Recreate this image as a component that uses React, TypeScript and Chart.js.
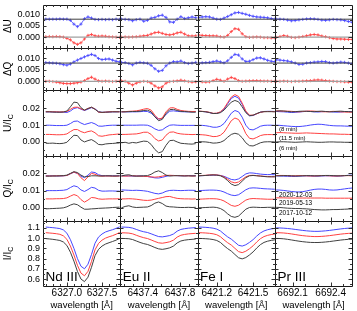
import React, { useEffect, useRef } from 'react';
import { Chart, registerables } from 'chart.js';

Chart.register(...registerables);

const FONT = "'Liberation Sans', Arial, Helvetica, sans-serif";
const BLACK = '#404040';
const RED = '#ff4040';
const BLUE = '#4646ff';

// ---------- wavelengths (Å) ----------
const wlNd = [6326.70, 6326.75, 6326.80, 6326.85, 6326.90, 6326.95, 6327.00, 6327.05, 6327.10, 6327.15, 6327.20, 6327.25, 6327.30, 6327.35, 6327.40, 6327.45, 6327.50, 6327.55, 6327.60, 6327.65, 6327.70, 6327.75];
const wlEu = [6437.17, 6437.21, 6437.25, 6437.29, 6437.33, 6437.37, 6437.41, 6437.45, 6437.49, 6437.53, 6437.57, 6437.61, 6437.65, 6437.69, 6437.73, 6437.77, 6437.81, 6437.85, 6437.89, 6437.93, 6437.97];
const wlFe = [6421.05, 6421.08, 6421.11, 6421.14, 6421.17, 6421.20, 6421.23, 6421.26, 6421.29, 6421.32, 6421.35, 6421.38, 6421.41, 6421.44, 6421.47, 6421.50, 6421.53, 6421.56, 6421.59, 6421.62, 6421.65, 6421.68];
const wlPr = [6691.97, 6692.00, 6692.03, 6692.06, 6692.09, 6692.12, 6692.15, 6692.18, 6692.21, 6692.24, 6692.27, 6692.30, 6692.33, 6692.36, 6692.39, 6692.42, 6692.45, 6692.48, 6692.51, 6692.54, 6692.57];

// ---------- Nd III ----------
const dUBlueNd = [0.0080, 0.0080, 0.0080, 0.0080, 0.0081, 0.0080, 0.0080, 0.0075, 0.0058, 0.0047, 0.0058, 0.0082, 0.0090, 0.0085, 0.0079, 0.0078, 0.0079, 0.0078, 0.0079, 0.0078, 0.0080, 0.0079];
const dURedNd = [0.0002, 0.0003, 0.0002, 0.0003, 0.0002, 0.0000, -0.0005, -0.0012, -0.0025, -0.0032, -0.0025, -0.0008, 0.0008, 0.0012, 0.0006, 0.0004, 0.0005, 0.0004, 0.0002, 0.0001, 0.0000, -0.0001];
const dQBlueNd = [0.0082, 0.0081, 0.0080, 0.0079, 0.0077, 0.0073, 0.0071, 0.0076, 0.0085, 0.0093, 0.0100, 0.0107, 0.0113, 0.0118, 0.0113, 0.0100, 0.0095, 0.0097, 0.0098, 0.0093, 0.0088, 0.0085];
const dQRedNd = [0.0000, 0.0000, -0.0001, -0.0003, -0.0006, -0.0009, -0.0010, -0.0010, -0.0008, -0.0006, -0.0003, 0.0003, 0.0012, 0.0018, 0.0010, 0.0002, 0.0000, 0.0001, 0.0000, -0.0001, 0.0000, 0.0000];
const uBlackTopNd = [0.0180, 0.0180, 0.0179, 0.0178, 0.0178, 0.0179, 0.0185, 0.0210, 0.0238, 0.0235, 0.0205, 0.0190, 0.0200, 0.0208, 0.0195, 0.0180, 0.0177, 0.0178, 0.0179, 0.0180, 0.0180, 0.0180];
const uRedTopNd = [0.0181, 0.0181, 0.0180, 0.0180, 0.0179, 0.0180, 0.0182, 0.0195, 0.0207, 0.0208, 0.0198, 0.0190, 0.0200, 0.0207, 0.0197, 0.0178, 0.0176, 0.0178, 0.0180, 0.0181, 0.0181, 0.0180];
const uBlueTopNd = [0.0180, 0.0180, 0.0179, 0.0179, 0.0178, 0.0178, 0.0176, 0.0185, 0.0200, 0.0205, 0.0196, 0.0188, 0.0196, 0.0205, 0.0198, 0.0180, 0.0177, 0.0178, 0.0179, 0.0180, 0.0180, 0.0181];
const uBlueNd = [0.0100, 0.0100, 0.0099, 0.0098, 0.0098, 0.0098, 0.0100, 0.0110, 0.0123, 0.0125, 0.0113, 0.0104, 0.0110, 0.0116, 0.0108, 0.0095, 0.0094, 0.0097, 0.0099, 0.0100, 0.0100, 0.0101];
const uRedNd = [0.0045, 0.0045, 0.0044, 0.0043, 0.0043, 0.0044, 0.0048, 0.0062, 0.0074, 0.0074, 0.0062, 0.0055, 0.0062, 0.0066, 0.0055, 0.0037, 0.0034, 0.0038, 0.0042, 0.0044, 0.0046, 0.0048];
const uBlackNd = [-0.0008, -0.0008, -0.0007, -0.0009, -0.0010, -0.0008, -0.0002, 0.0020, 0.0040, 0.0038, 0.0012, 0.0000, 0.0008, 0.0014, 0.0002, -0.0015, -0.0017, -0.0012, -0.0010, -0.0009, -0.0007, -0.0006];
const qBlackTopNd = [0.0184, 0.0184, 0.0185, 0.0185, 0.0186, 0.0187, 0.0190, 0.0200, 0.0210, 0.0205, 0.0190, 0.0180, 0.0182, 0.0186, 0.0186, 0.0185, 0.0185, 0.0186, 0.0186, 0.0185, 0.0185, 0.0186];
const qRedTopNd = [0.0185, 0.0185, 0.0185, 0.0186, 0.0186, 0.0186, 0.0188, 0.0198, 0.0208, 0.0200, 0.0175, 0.0158, 0.0180, 0.0200, 0.0195, 0.0186, 0.0184, 0.0185, 0.0185, 0.0184, 0.0184, 0.0185];
const qBlueTopNd = [0.0186, 0.0186, 0.0186, 0.0185, 0.0185, 0.0186, 0.0188, 0.0198, 0.0207, 0.0200, 0.0184, 0.0175, 0.0190, 0.0208, 0.0205, 0.0192, 0.0187, 0.0186, 0.0186, 0.0186, 0.0186, 0.0186];
const qBlueNd = [0.0100, 0.0100, 0.0100, 0.0100, 0.0101, 0.0102, 0.0106, 0.0118, 0.0128, 0.0122, 0.0104, 0.0095, 0.0106, 0.0119, 0.0115, 0.0102, 0.0097, 0.0097, 0.0098, 0.0098, 0.0097, 0.0097];
const qRedNd = [0.0052, 0.0052, 0.0052, 0.0053, 0.0053, 0.0054, 0.0058, 0.0068, 0.0077, 0.0070, 0.0048, 0.0033, 0.0045, 0.0060, 0.0058, 0.0052, 0.0050, 0.0051, 0.0052, 0.0052, 0.0052, 0.0053];
const qBlackNd = [-0.0006, -0.0005, -0.0004, -0.0003, -0.0002, 0.0000, 0.0006, 0.0016, 0.0023, 0.0018, 0.0004, -0.0008, -0.0008, -0.0006, -0.0005, -0.0003, -0.0002, -0.0001, 0.0000, 0.0002, 0.0003, 0.0004];
const iBlueNd = [1.108, 1.105, 1.102, 1.098, 1.093, 1.080, 1.048, 0.985, 0.900, 0.800, 0.725, 0.700, 0.745, 0.840, 0.950, 1.010, 1.040, 1.060, 1.072, 1.082, 1.095, 1.110];
const iRedNd = [1.053, 1.050, 1.047, 1.043, 1.037, 1.022, 0.988, 0.922, 0.835, 0.735, 0.658, 0.632, 0.675, 0.772, 0.885, 0.948, 0.980, 1.000, 1.013, 1.024, 1.038, 1.055];
const iBlackNd = [0.995, 0.992, 0.988, 0.983, 0.977, 0.962, 0.928, 0.862, 0.775, 0.675, 0.600, 0.575, 0.618, 0.715, 0.828, 0.890, 0.922, 0.942, 0.955, 0.967, 0.980, 0.997];

// ---------- Eu II ----------
const dUBlueEu = [0.0080, 0.0079, 0.0078, 0.0073, 0.0078, 0.0080, 0.0071, 0.0075, 0.0085, 0.0088, 0.0095, 0.0098, 0.0088, 0.0068, 0.0066, 0.0080, 0.0091, 0.0083, 0.0086, 0.0090, 0.0087];
const dURedEu = [0.0000, 0.0001, 0.0000, 0.0001, 0.0002, 0.0004, 0.0006, 0.0008, 0.0014, 0.0020, 0.0022, 0.0017, 0.0012, 0.0010, 0.0013, 0.0019, 0.0022, 0.0014, 0.0006, 0.0005, 0.0006];
const dQBlueEu = [0.0083, 0.0082, 0.0078, 0.0072, 0.0080, 0.0083, 0.0081, 0.0079, 0.0070, 0.0055, 0.0044, 0.0048, 0.0068, 0.0080, 0.0086, 0.0085, 0.0089, 0.0082, 0.0078, 0.0080, 0.0083];
const dQRedEu = [0.0002, 0.0000, -0.0008, -0.0016, -0.0008, -0.0002, 0.0000, -0.0001, -0.0008, -0.0020, -0.0029, -0.0024, -0.0008, -0.0001, 0.0000, 0.0002, 0.0005, 0.0002, -0.0001, -0.0003, -0.0002];
const uBlackTopEu = [0.0180, 0.0180, 0.0181, 0.0182, 0.0182, 0.0184, 0.0188, 0.0190, 0.0180, 0.0150, 0.0127, 0.0135, 0.0170, 0.0193, 0.0195, 0.0188, 0.0183, 0.0182, 0.0180, 0.0178, 0.0178];
const uRedTopEu = [0.0180, 0.0181, 0.0183, 0.0184, 0.0186, 0.0190, 0.0196, 0.0200, 0.0190, 0.0160, 0.0137, 0.0143, 0.0180, 0.0203, 0.0205, 0.0195, 0.0188, 0.0185, 0.0183, 0.0182, 0.0182];
const uBlueTopEu = [0.0180, 0.0180, 0.0180, 0.0180, 0.0180, 0.0181, 0.0183, 0.0182, 0.0172, 0.0152, 0.0137, 0.0140, 0.0165, 0.0184, 0.0186, 0.0183, 0.0181, 0.0180, 0.0180, 0.0180, 0.0181];
const uBlueEu = [0.0100, 0.0100, 0.0100, 0.0100, 0.0100, 0.0101, 0.0101, 0.0100, 0.0092, 0.0078, 0.0069, 0.0072, 0.0088, 0.0100, 0.0102, 0.0100, 0.0099, 0.0099, 0.0099, 0.0099, 0.0099];
const uRedEu = [0.0045, 0.0045, 0.0046, 0.0047, 0.0048, 0.0052, 0.0058, 0.0058, 0.0045, 0.0020, 0.0006, 0.0012, 0.0040, 0.0058, 0.0060, 0.0052, 0.0048, 0.0046, 0.0045, 0.0044, 0.0045];
const uBlackEu = [-0.0005, -0.0002, -0.0008, -0.0003, -0.0006, 0.0000, 0.0005, 0.0003, -0.0015, -0.0045, -0.0065, -0.0058, -0.0020, 0.0008, 0.0010, 0.0000, -0.0008, -0.0010, -0.0012, -0.0013, -0.0010];
const qBlackTopEu = [0.0185, 0.0190, 0.0192, 0.0186, 0.0184, 0.0185, 0.0186, 0.0187, 0.0195, 0.0208, 0.0215, 0.0205, 0.0190, 0.0185, 0.0186, 0.0187, 0.0186, 0.0185, 0.0186, 0.0185, 0.0186];
const qRedTopEu = [0.0185, 0.0184, 0.0185, 0.0186, 0.0185, 0.0184, 0.0183, 0.0182, 0.0180, 0.0178, 0.0180, 0.0184, 0.0188, 0.0189, 0.0188, 0.0187, 0.0187, 0.0186, 0.0186, 0.0185, 0.0185];
const qBlueTopEu = [0.0186, 0.0186, 0.0185, 0.0184, 0.0185, 0.0185, 0.0184, 0.0182, 0.0178, 0.0174, 0.0173, 0.0177, 0.0183, 0.0187, 0.0188, 0.0187, 0.0186, 0.0186, 0.0187, 0.0187, 0.0186];
const qBlueEu = [0.0104, 0.0103, 0.0102, 0.0101, 0.0102, 0.0101, 0.0099, 0.0096, 0.0090, 0.0084, 0.0081, 0.0086, 0.0096, 0.0101, 0.0102, 0.0101, 0.0100, 0.0101, 0.0102, 0.0102, 0.0101];
const qRedEu = [0.0052, 0.0052, 0.0053, 0.0052, 0.0050, 0.0047, 0.0044, 0.0043, 0.0045, 0.0050, 0.0055, 0.0060, 0.0065, 0.0066, 0.0060, 0.0055, 0.0053, 0.0052, 0.0052, 0.0051, 0.0052];
const qBlackEu = [0.0000, 0.0008, 0.0012, 0.0005, 0.0002, 0.0003, 0.0004, 0.0005, 0.0013, 0.0027, 0.0034, 0.0025, 0.0010, 0.0006, 0.0005, 0.0003, 0.0002, 0.0002, 0.0003, 0.0002, 0.0003];
const iBlueEu = [1.108, 1.107, 1.105, 1.098, 1.085, 1.072, 1.062, 1.055, 1.042, 1.028, 1.015, 1.012, 1.018, 1.025, 1.040, 1.068, 1.085, 1.092, 1.097, 1.100, 1.103];
const iRedEu = [1.052, 1.051, 1.049, 1.042, 1.028, 1.015, 1.004, 0.996, 0.982, 0.967, 0.954, 0.950, 0.956, 0.964, 0.980, 1.010, 1.028, 1.036, 1.041, 1.044, 1.047];
const iBlackEu = [0.997, 0.996, 0.994, 0.986, 0.972, 0.958, 0.946, 0.938, 0.924, 0.908, 0.895, 0.890, 0.896, 0.905, 0.922, 0.953, 0.972, 0.980, 0.985, 0.988, 0.991];

// ---------- Fe I ----------
const dUBlueFe = [0.0088, 0.0090, 0.0091, 0.0090, 0.0085, 0.0080, 0.0079, 0.0085, 0.0092, 0.0100, 0.0108, 0.0110, 0.0106, 0.0102, 0.0097, 0.0093, 0.0090, 0.0089, 0.0088, 0.0086, 0.0083, 0.0080];
const dURedFe = [0.0010, 0.0008, 0.0007, 0.0006, 0.0006, 0.0005, 0.0002, 0.0000, 0.0008, 0.0025, 0.0038, 0.0035, 0.0015, 0.0002, -0.0001, 0.0000, 0.0001, 0.0000, -0.0002, -0.0002, -0.0003, -0.0003];
const dQBlueFe = [0.0080, 0.0081, 0.0082, 0.0083, 0.0086, 0.0089, 0.0085, 0.0081, 0.0090, 0.0105, 0.0118, 0.0115, 0.0098, 0.0087, 0.0088, 0.0095, 0.0102, 0.0103, 0.0098, 0.0092, 0.0088, 0.0086];
const dQRedFe = [0.0000, -0.0002, -0.0003, -0.0002, 0.0003, 0.0009, 0.0005, 0.0000, 0.0010, 0.0017, 0.0012, 0.0003, 0.0000, 0.0001, 0.0002, 0.0003, 0.0003, 0.0002, 0.0001, 0.0001, 0.0000, 0.0000];
const uBlackTopFe = [0.0183, 0.0182, 0.0180, 0.0176, 0.0170, 0.0170, 0.0175, 0.0190, 0.0215, 0.0238, 0.0248, 0.0240, 0.0210, 0.0175, 0.0157, 0.0160, 0.0170, 0.0178, 0.0181, 0.0181, 0.0181, 0.0180];
const uRedTopFe = [0.0184, 0.0183, 0.0181, 0.0177, 0.0171, 0.0172, 0.0180, 0.0200, 0.0235, 0.0268, 0.0283, 0.0272, 0.0232, 0.0185, 0.0160, 0.0160, 0.0168, 0.0177, 0.0181, 0.0182, 0.0182, 0.0181];
const uBlueTopFe = [0.0183, 0.0182, 0.0180, 0.0175, 0.0170, 0.0171, 0.0178, 0.0196, 0.0228, 0.0260, 0.0273, 0.0262, 0.0225, 0.0180, 0.0156, 0.0158, 0.0168, 0.0178, 0.0182, 0.0183, 0.0183, 0.0182];
const uBlueFe = [0.0100, 0.0099, 0.0097, 0.0093, 0.0088, 0.0088, 0.0094, 0.0110, 0.0140, 0.0172, 0.0188, 0.0180, 0.0148, 0.0100, 0.0075, 0.0072, 0.0082, 0.0094, 0.0099, 0.0100, 0.0100, 0.0099];
const uRedFe = [0.0044, 0.0043, 0.0041, 0.0037, 0.0032, 0.0033, 0.0040, 0.0058, 0.0092, 0.0127, 0.0143, 0.0134, 0.0098, 0.0050, 0.0022, 0.0018, 0.0027, 0.0038, 0.0043, 0.0044, 0.0044, 0.0043];
const uBlackFe = [0.0002, 0.0001, 0.0000, -0.0003, -0.0007, -0.0006, -0.0002, 0.0008, 0.0028, 0.0045, 0.0052, 0.0046, 0.0025, -0.0005, -0.0022, -0.0024, -0.0015, -0.0005, 0.0000, 0.0001, 0.0001, 0.0000];
const qBlackTopFe = [0.0186, 0.0187, 0.0188, 0.0190, 0.0191, 0.0190, 0.0186, 0.0176, 0.0158, 0.0138, 0.0129, 0.0135, 0.0155, 0.0175, 0.0186, 0.0188, 0.0186, 0.0184, 0.0182, 0.0180, 0.0180, 0.0180];
const qRedTopFe = [0.0187, 0.0188, 0.0189, 0.0191, 0.0192, 0.0191, 0.0188, 0.0180, 0.0166, 0.0151, 0.0145, 0.0150, 0.0165, 0.0180, 0.0188, 0.0189, 0.0187, 0.0185, 0.0183, 0.0182, 0.0181, 0.0181];
const qBlueTopFe = [0.0186, 0.0187, 0.0188, 0.0189, 0.0190, 0.0190, 0.0188, 0.0183, 0.0174, 0.0165, 0.0162, 0.0168, 0.0182, 0.0197, 0.0203, 0.0202, 0.0199, 0.0196, 0.0194, 0.0193, 0.0193, 0.0192];
const qBlueFe = [0.0100, 0.0101, 0.0102, 0.0103, 0.0103, 0.0102, 0.0099, 0.0092, 0.0082, 0.0074, 0.0071, 0.0076, 0.0090, 0.0105, 0.0114, 0.0116, 0.0115, 0.0113, 0.0111, 0.0110, 0.0109, 0.0108];
const qRedFe = [0.0050, 0.0051, 0.0052, 0.0053, 0.0053, 0.0052, 0.0048, 0.0040, 0.0027, 0.0014, 0.0009, 0.0015, 0.0030, 0.0045, 0.0052, 0.0054, 0.0053, 0.0052, 0.0051, 0.0050, 0.0050, 0.0050];
const qBlackFe = [0.0000, 0.0001, 0.0002, 0.0003, 0.0004, 0.0002, -0.0004, -0.0016, -0.0035, -0.0050, -0.0055, -0.0048, -0.0028, -0.0008, 0.0002, 0.0004, 0.0003, 0.0002, 0.0002, 0.0003, 0.0003, 0.0003];
const iBlueFe = [1.108, 1.107, 1.105, 1.102, 1.097, 1.088, 1.070, 1.040, 1.012, 0.990, 0.960, 0.930, 0.922, 0.935, 0.958, 0.985, 1.020, 1.050, 1.070, 1.082, 1.090, 1.095];
const iRedFe = [1.053, 1.052, 1.050, 1.047, 1.042, 1.033, 1.014, 0.983, 0.955, 0.932, 0.900, 0.868, 0.858, 0.872, 0.896, 0.925, 0.962, 0.994, 1.015, 1.027, 1.035, 1.040];
const iBlackFe = [0.997, 0.996, 0.994, 0.991, 0.986, 0.977, 0.958, 0.926, 0.897, 0.873, 0.840, 0.808, 0.797, 0.810, 0.835, 0.865, 0.903, 0.936, 0.958, 0.970, 0.978, 0.983];

// ---------- Pr III ----------
const dUBluePr = [0.0080, 0.0080, 0.0079, 0.0076, 0.0073, 0.0074, 0.0077, 0.0079, 0.0081, 0.0082, 0.0081, 0.0079, 0.0076, 0.0075, 0.0077, 0.0079, 0.0078, 0.0077, 0.0074, 0.0070, 0.0066];
const dURedPr = [-0.0001, 0.0003, 0.0007, 0.0004, -0.0001, -0.0002, 0.0000, 0.0003, 0.0006, 0.0010, 0.0012, 0.0010, 0.0005, 0.0002, -0.0002, -0.0006, -0.0008, -0.0008, -0.0009, -0.0010, -0.0010];
const dQBluePr = [0.0094, 0.0093, 0.0091, 0.0089, 0.0085, 0.0080, 0.0074, 0.0075, 0.0080, 0.0082, 0.0084, 0.0085, 0.0087, 0.0086, 0.0082, 0.0080, 0.0082, 0.0084, 0.0083, 0.0080, 0.0077];
const dQRedPr = [0.0000, 0.0000, 0.0001, 0.0000, -0.0001, 0.0000, 0.0000, 0.0001, 0.0002, 0.0003, 0.0005, 0.0006, 0.0005, 0.0003, 0.0001, 0.0000, -0.0001, -0.0001, -0.0002, -0.0003, -0.0004];
const uBlackTopPr = [0.0184, 0.0186, 0.0185, 0.0182, 0.0180, 0.0181, 0.0183, 0.0184, 0.0183, 0.0182, 0.0181, 0.0183, 0.0184, 0.0182, 0.0180, 0.0181, 0.0183, 0.0184, 0.0182, 0.0181, 0.0180];
const uRedTopPr = [0.0186, 0.0185, 0.0184, 0.0184, 0.0183, 0.0181, 0.0180, 0.0182, 0.0184, 0.0185, 0.0184, 0.0182, 0.0181, 0.0180, 0.0181, 0.0183, 0.0182, 0.0180, 0.0179, 0.0178, 0.0178];
const uBlueTopPr = [0.0182, 0.0181, 0.0180, 0.0178, 0.0176, 0.0177, 0.0179, 0.0181, 0.0183, 0.0182, 0.0180, 0.0179, 0.0181, 0.0182, 0.0181, 0.0179, 0.0178, 0.0179, 0.0181, 0.0182, 0.0181];
const uBluePr = [0.0100, 0.0099, 0.0097, 0.0095, 0.0093, 0.0092, 0.0092, 0.0094, 0.0097, 0.0101, 0.0104, 0.0106, 0.0105, 0.0102, 0.0099, 0.0097, 0.0096, 0.0096, 0.0095, 0.0094, 0.0094];
const uRedPr = [0.0055, 0.0056, 0.0055, 0.0054, 0.0053, 0.0052, 0.0052, 0.0053, 0.0054, 0.0053, 0.0052, 0.0051, 0.0050, 0.0049, 0.0048, 0.0048, 0.0047, 0.0046, 0.0046, 0.0045, 0.0045];
const uBlackPr = [0.0000, 0.0001, 0.0001, 0.0000, -0.0001, -0.0002, -0.0001, 0.0000, 0.0001, 0.0000, -0.0001, -0.0002, -0.0002, -0.0001, 0.0000, 0.0000, -0.0001, -0.0001, -0.0002, -0.0002, -0.0002];
const qBlackTopPr = [0.0186, 0.0186, 0.0187, 0.0187, 0.0186, 0.0185, 0.0185, 0.0186, 0.0187, 0.0187, 0.0186, 0.0186, 0.0187, 0.0188, 0.0188, 0.0187, 0.0186, 0.0186, 0.0187, 0.0188, 0.0188];
const qRedTopPr = [0.0187, 0.0188, 0.0188, 0.0187, 0.0186, 0.0186, 0.0187, 0.0187, 0.0186, 0.0185, 0.0185, 0.0186, 0.0187, 0.0187, 0.0186, 0.0185, 0.0185, 0.0186, 0.0187, 0.0187, 0.0186];
const qBlueTopPr = [0.0186, 0.0185, 0.0184, 0.0183, 0.0182, 0.0182, 0.0184, 0.0185, 0.0186, 0.0185, 0.0184, 0.0184, 0.0185, 0.0186, 0.0186, 0.0185, 0.0184, 0.0185, 0.0187, 0.0189, 0.0190];
const qBluePr = [0.0104, 0.0103, 0.0101, 0.0098, 0.0095, 0.0093, 0.0092, 0.0094, 0.0098, 0.0103, 0.0107, 0.0109, 0.0109, 0.0107, 0.0104, 0.0103, 0.0104, 0.0107, 0.0110, 0.0113, 0.0115];
const qRedPr = [0.0058, 0.0058, 0.0058, 0.0057, 0.0057, 0.0057, 0.0057, 0.0057, 0.0057, 0.0057, 0.0057, 0.0057, 0.0057, 0.0056, 0.0056, 0.0056, 0.0056, 0.0056, 0.0056, 0.0056, 0.0056];
const qBlackPr = [0.0003, 0.0002, 0.0000, -0.0002, -0.0003, -0.0004, -0.0004, -0.0005, -0.0006, -0.0008, -0.0010, -0.0011, -0.0012, -0.0012, -0.0011, -0.0010, -0.0010, -0.0009, -0.0008, -0.0007, -0.0006];
const iBluePr = [1.100, 1.099, 1.097, 1.094, 1.090, 1.085, 1.080, 1.075, 1.071, 1.068, 1.066, 1.066, 1.068, 1.071, 1.075, 1.080, 1.085, 1.090, 1.094, 1.097, 1.100];
const iRedPr = [1.053, 1.052, 1.050, 1.046, 1.041, 1.035, 1.029, 1.024, 1.020, 1.017, 1.015, 1.015, 1.017, 1.020, 1.024, 1.029, 1.034, 1.039, 1.043, 1.046, 1.048];
const iBlackPr = [0.997, 0.996, 0.993, 0.988, 0.982, 0.976, 0.970, 0.965, 0.961, 0.958, 0.957, 0.957, 0.959, 0.962, 0.966, 0.971, 0.976, 0.981, 0.985, 0.988, 0.990];

// ---------- axes, ticks, labels ----------
const lineNames = ['Nd III', 'Eu II', 'Fe I', 'Pr III'];
const xRangeNd = [6326.66, 6327.76];
const xRangeEu = [6437.158, 6437.99];
const xRangeFe = [6421.042, 6421.68];
const xRangePr = [6691.96, 6692.57];
const xTicksNd = [6327.0, 6327.5];
const xTicksEu = [6437.4, 6437.8];
const xTicksFe = [6421.2, 6421.5];
const xTicksPr = [6692.1, 6692.4];
const xTitle = 'wavelength [Å]';

const yRangeDU = [-0.0046, 0.0144];
const yRangeDQ = [-0.0039, 0.0148];
const yRangeU = [-0.0083, 0.0309];
const yRangeQ = [-0.0076, 0.0302];
const yRangeI = [0.532, 1.168];
const yTicksDelta = [0.0, 0.005, 0.010];
const yTicksPol = [0.0, 0.01, 0.02];
const yTicksI = [0.6, 0.7, 0.8, 0.9, 1.0, 1.1];
const yTitles = ['ΔU', 'ΔQ', 'U/I', 'Q/I', 'I/I'];
const yTitleSubs = ['', '', 'C', 'C', 'C'];
const refLevels = [0.0, 0.008];
const exposureLabels = ['(8 min)', '(11.5 min)', '(6 min)'];
const dateLabels = ['2020-12-03', '2019-05-13', '2017-10-12'];

const X_IDS = ['xNd', 'xEu', 'xFe', 'xPr'];
const Y_IDS = ['yDU', 'yDQ', 'yU', 'yQ', 'yI'];

const COLS = [
  { wl: wlNd, range: xRangeNd, ticks: xTicksNd, dU: [dUBlueNd, dURedNd], dQ: [dQBlueNd, dQRedNd], uTop: [uBlackTopNd, uRedTopNd, uBlueTopNd], uOff: [uBlackNd, uRedNd, uBlueNd], qTop: [qBlackTopNd, qRedTopNd, qBlueTopNd], qOff: [qBlackNd, qRedNd, qBlueNd], I: [iBlackNd, iRedNd, iBlueNd] },
  { wl: wlEu, range: xRangeEu, ticks: xTicksEu, dU: [dUBlueEu, dURedEu], dQ: [dQBlueEu, dQRedEu], uTop: [uBlackTopEu, uRedTopEu, uBlueTopEu], uOff: [uBlackEu, uRedEu, uBlueEu], qTop: [qBlackTopEu, qRedTopEu, qBlueTopEu], qOff: [qBlackEu, qRedEu, qBlueEu], I: [iBlackEu, iRedEu, iBlueEu] },
  { wl: wlFe, range: xRangeFe, ticks: xTicksFe, dU: [dUBlueFe, dURedFe], dQ: [dQBlueFe, dQRedFe], uTop: [uBlackTopFe, uRedTopFe, uBlueTopFe], uOff: [uBlackFe, uRedFe, uBlueFe], qTop: [qBlackTopFe, qRedTopFe, qBlueTopFe], qOff: [qBlackFe, qRedFe, qBlueFe], I: [iBlackFe, iRedFe, iBlueFe] },
  { wl: wlPr, range: xRangePr, ticks: xTicksPr, dU: [dUBluePr, dURedPr], dQ: [dQBluePr, dQRedPr], uTop: [uBlackTopPr, uRedTopPr, uBlueTopPr], uOff: [uBlackPr, uRedPr, uBluePr], qTop: [qBlackTopPr, qRedTopPr, qBlueTopPr], qOff: [qBlackPr, qRedPr, qBluePr], I: [iBlackPr, iRedPr, iBluePr] },
];

const Y_CFG = [
  { id: 'yDU', range: yRangeDU, ticks: yTicksDelta, dec: 3, minor: 0.0025, weight: 43, order: 5 },
  { id: 'yDQ', range: yRangeDQ, ticks: yTicksDelta, dec: 3, minor: 0.0025, weight: 43, order: 4 },
  { id: 'yU', range: yRangeU, ticks: yTicksPol, dec: 2, minor: 0.005, weight: 66, order: 3 },
  { id: 'yQ', range: yRangeQ, ticks: yTicksPol, dec: 2, minor: 0.005, weight: 65.5, order: 2 },
  { id: 'yI', range: yRangeI, ticks: yTicksI, dec: 1, minor: 0.05, weight: 65.5, order: 1 },
];
const X_MINOR = 0.1;
const COLORS3 = [BLACK, RED, BLUE];
const REF_COLORS = ['#a0a0a0', '#404040'];

function series(wl: number[], vals: number[], color: string, xId: string, yId: string, extra: any = {}) {
  return {
    data: wl.map((x, i) => ({ x, y: vals[i] })),
    borderColor: color,
    backgroundColor: color,
    borderWidth: 1,
    pointRadius: 0,
    tension: 0,
    xAxisID: xId,
    yAxisID: yId,
    ...extra,
  };
}

function buildDatasets() {
  const ds: any[] = [];
  COLS.forEach((c, ci) => {
    const xId = X_IDS[ci];
    ['yDU', 'yDQ'].forEach((yId) => {
      refLevels.forEach((lv, k) => {
        ds.push(series(c.range, [lv, lv], REF_COLORS[k], xId, yId, { borderWidth: k === 0 ? 1.3 : 1 }));
      });
    });
    const marks = { pointStyle: 'cross', pointRadius: 1.6, pointBorderWidth: 0.8, borderWidth: 0.8 };
    ds.push(series(c.wl, c.dU[0], BLUE, xId, 'yDU', marks));
    ds.push(series(c.wl, c.dU[1], RED, xId, 'yDU', marks));
    ds.push(series(c.wl, c.dQ[0], BLUE, xId, 'yDQ', marks));
    ds.push(series(c.wl, c.dQ[1], RED, xId, 'yDQ', marks));
    [0, 1, 2].forEach((k) => {
      ds.push(series(c.wl, c.uTop[k], COLORS3[k], xId, 'yU'));
      ds.push(series(c.wl, c.uOff[k], COLORS3[k], xId, 'yU'));
      ds.push(series(c.wl, c.qTop[k], COLORS3[k], xId, 'yQ'));
      ds.push(series(c.wl, c.qOff[k], COLORS3[k], xId, 'yQ'));
      ds.push(series(c.wl, c.I[k], COLORS3[k], xId, 'yI'));
    });
  });
  return ds;
}

function buildScales() {
  const scales: any = {};
  COLS.forEach((c, ci) => {
    scales[X_IDS[ci]] = {
      type: 'linear',
      position: 'bottom',
      stack: 'cols',
      stackWeight: 1,
      weight: ci + 1,
      min: c.range[0],
      max: c.range[1],
      grid: { display: false, drawTicks: false },
      border: { display: false },
      afterBuildTicks: (s: any) => { s.ticks = c.ticks.map((v) => ({ value: v })); },
      afterFit: (s: any) => { s.height = 25; s.paddingLeft = 0; s.paddingRight = 0; },
      ticks: {
        autoSkip: false,
        maxRotation: 0,
        padding: 1,
        color: '#000',
        font: { family: FONT, size: 10 },
        callback: (v: any) => Number(v).toFixed(1),
      },
      title: { display: true, text: xTitle, color: '#000', font: { family: FONT, size: 9.5 }, padding: { top: 0, bottom: 0 } },
    };
  });
  Y_CFG.forEach((y) => {
    scales[y.id] = {
      type: 'linear',
      position: 'left',
      stack: 'rows',
      stackWeight: y.weight,
      weight: y.order,
      min: y.range[0],
      max: y.range[1],
      grid: { display: false, drawTicks: false },
      border: { display: false },
      afterBuildTicks: (s: any) => { s.ticks = y.ticks.map((v) => ({ value: v })); },
      afterFit: (s: any) => { s.width = 43; s.paddingTop = 0; s.paddingBottom = 0; },
      ticks: {
        autoSkip: false,
        padding: 3,
        color: '#000',
        font: { family: FONT, size: 9 },
        callback: (v: any) => Number(v).toFixed(y.dec),
      },
    };
  });
  return scales;
}

function minorValues(min: number, max: number, step: number) {
  const out: number[] = [];
  const k0 = Math.ceil(min / step - 1e-6);
  const k1 = Math.floor(max / step + 1e-6);
  for (let k = k0; k <= k1; k++) out.push(k * step);
  return out;
}

const panelPlugin = {
  id: 'panelFrames',
  afterDatasetsDraw(chart: any) {
    const ctx = chart.ctx;
    const xs = X_IDS.map((id) => chart.scales[id]);
    const ys = Y_IDS.map((id) => chart.scales[id]);
    const R = (v: number) => Math.round(v) + 0.5;
    ctx.save();
    ctx.strokeStyle = '#1a1a1a';
    ctx.lineWidth = 1;
    // frames
    ctx.beginPath();
    xs.forEach((sx: any) => ys.forEach((sy: any) => {
      ctx.rect(R(sx.left), R(sy.top), Math.round(sx.right) - Math.round(sx.left), Math.round(sy.bottom) - Math.round(sy.top));
    }));
    ctx.stroke();
    // ticks (inward, on all sides)
    ctx.strokeStyle = '#333';
    ctx.beginPath();
    xs.forEach((sx: any, ci: number) => {
      const majors = COLS[ci].ticks;
      const vals = minorValues(sx.min, sx.max, X_MINOR);
      ys.forEach((sy: any) => {
        const t = Math.round(sy.top), b = Math.round(sy.bottom);
        vals.forEach((v) => {
          const len = majors.some((m) => Math.abs(m - v) < X_MINOR / 10) ? 3.5 : 2;
          const px = R(sx.getPixelForValue(v));
          ctx.moveTo(px, t); ctx.lineTo(px, t + len);
          ctx.moveTo(px, b); ctx.lineTo(px, b - len);
        });
      });
    });
    ys.forEach((sy: any, ri: number) => {
      const cfg = Y_CFG[ri];
      const vals = minorValues(sy.min, sy.max, cfg.minor);
      xs.forEach((sx: any) => {
        const l = Math.round(sx.left), r = Math.round(sx.right);
        vals.forEach((v) => {
          const len = cfg.ticks.some((m) => Math.abs(m - v) < cfg.minor / 10) ? 3.5 : 2;
          const py = R(sy.getPixelForValue(v));
          ctx.moveTo(l, py); ctx.lineTo(l + len, py);
          ctx.moveTo(r, py); ctx.lineTo(r - len, py);
        });
      });
    });
    ctx.stroke();

    ctx.fillStyle = '#000';
    // y titles (rotated, with subscript)
    ys.forEach((sy: any, ri: number) => {
      const cy = (sy.top + sy.bottom) / 2;
      ctx.save();
      ctx.translate(8.5, cy);
      ctx.rotate(-Math.PI / 2);
      ctx.font = `10px ${FONT}`;
      const main = yTitles[ri];
      const sub = yTitleSubs[ri];
      const wMain = ctx.measureText(main).width;
      ctx.font = `7px ${FONT}`;
      const wSub = sub ? ctx.measureText(sub).width : 0;
      const start = -(wMain + wSub) / 2;
      ctx.textBaseline = 'middle';
      ctx.textAlign = 'left';
      ctx.font = `10px ${FONT}`;
      ctx.fillText(main, start, 0);
      if (sub) {
        ctx.font = `7px ${FONT}`;
        ctx.fillText(sub, start + wMain, 3);
      }
      ctx.restore();
    });

    // line names in intensity panels
    const yI = chart.scales.yI;
    ctx.font = `13.5px ${FONT}`;
    ctx.textAlign = 'left';
    ctx.textBaseline = 'alphabetic';
    xs.forEach((sx: any, ci: number) => {
      ctx.fillText(lineNames[ci], sx.left + 2.5, yI.bottom - 5);
    });

    // exposure labels (Pr III, U panel) and date labels (Pr III, Q panel)
    const sxPr = xs[3];
    const yU = chart.scales.yU;
    const yQ = chart.scales.yQ;
    ctx.textBaseline = 'middle';
    ctx.font = `6px ${FONT}`;
    const expY = [0.0078, 0.0020, -0.0040];
    exposureLabels.forEach((t, k) => ctx.fillText(t, sxPr.left + 4, yU.getPixelForValue(expY[k])));
    ctx.font = `6.5px ${FONT}`;
    const dateY = [0.0074, 0.0028, -0.0033];
    dateLabels.forEach((t, k) => ctx.fillText(t, sxPr.left + 4, yQ.getPixelForValue(dateY[k])));
    ctx.restore();
  },
};

export default function App() {
  const ref = useRef<HTMLCanvasElement | null>(null);
  useEffect(() => {
    document.body.style.margin = '0';
    if (!ref.current) return;
    const chart = new Chart(ref.current, {
      type: 'line',
      data: { datasets: buildDatasets() },
      options: {
        responsive: false,
        animation: false,
        devicePixelRatio: 1,
        events: [],
        layout: { padding: { left: 0, right: 2, top: 3, bottom: 0 } },
        plugins: { legend: { display: false }, tooltip: { enabled: false }, title: { display: false } },
        scales: buildScales(),
      },
      plugins: [panelPlugin],
    } as any);
    return () => chart.destroy();
  }, []);
  return (
    <div style={{ position: 'fixed', left: 0, top: 0, width: 357, height: 311, background: '#fff' }}>
      <canvas ref={ref} width={357} height={311} style={{ width: 357, height: 311 }} />
    </div>
  );
}
